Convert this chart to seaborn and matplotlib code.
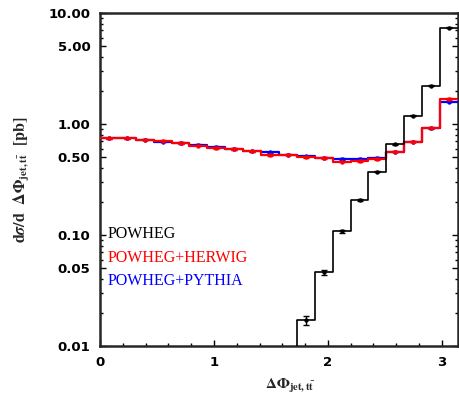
import numpy as np
import pandas as pd
import matplotlib
matplotlib.use("Agg")
import matplotlib.pyplot as plt
import seaborn as sns
from matplotlib.ticker import FixedLocator, FixedFormatter, MultipleLocator, LogLocator

# ---------------- data ----------------
n_bins = 20
bin_edges = np.linspace(0, np.pi, n_bins + 1)
bin_centers = 0.5 * (bin_edges[:-1] + bin_edges[1:])

powheg = [np.nan] * 11 + [0.017, 0.046, 0.108, 0.205, 0.373, 0.66, 1.19, 2.22, 7.4]
powheg_relerr = [np.nan] * 11 + [0.10, 0.06, 0.03, 0.02, 0.015, 0.01, 0.01, 0.01, 0.01]

herwig = [0.743, 0.743, 0.723, 0.708, 0.675, 0.638, 0.609, 0.596, 0.568, 0.527,
          0.530, 0.505, 0.495, 0.458, 0.465, 0.485, 0.564, 0.694, 0.925, 1.68]
pythia = [0.743, 0.743, 0.723, 0.693, 0.675, 0.652, 0.618, 0.596, 0.568, 0.556,
          0.530, 0.512, 0.498, 0.485, 0.482, 0.495, 0.564, 0.694, 0.915, 1.59]
relerr_shower = [0.015] * 20

ytick_vals = [0.01, 0.05, 0.10, 0.50, 1.00, 5.00, 10.00]
ytick_labels = ["0.01", "0.05", "0.10", "0.50", "1.00", "5.00", "10.00"]
xtick_vals = [0, 1, 2, 3]
xtick_labels = ["0", "1", "2", "3"]

series_names = ["POWHEG", "POWHEG+HERWIG", "POWHEG+PYTHIA"]
series_colors = ["black", "#ff0000", "#0000ff"]

# ---------------- style ----------------
sns.set_style("ticks")
plt.rcParams["font.family"] = ["DejaVu Sans"]
plt.rcParams["font.weight"] = "bold"
plt.rcParams["mathtext.fontset"] = "stix"

fig = plt.figure(figsize=(4.6, 3.95), dpi=100)
ax = fig.add_axes([100 / 460, 1 - 346 / 395, 358 / 460, 333 / 395])
ax.set_yscale("log")


def step_frame(vals):
    vals = np.asarray(vals, dtype=float)
    ok = ~np.isnan(vals)
    first = np.argmax(ok)
    x = bin_edges[first:]
    y = np.append(vals[first:], vals[-1])
    return pd.DataFrame({"x": x, "y": y}), first


def draw_series(vals, relerr, color, lw, z):
    df, first = step_frame(vals)
    sns.lineplot(data=df, x="x", y="y", drawstyle="steps-post", color=color,
                 lw=lw, ax=ax, zorder=z, sort=False, estimator=None)
    vals = np.asarray(vals, dtype=float)
    err = vals * np.asarray(relerr, dtype=float)
    pts = pd.DataFrame({"x": bin_centers[first:], "y": vals[first:]})
    ax.errorbar(bin_centers[first:], vals[first:], yerr=err[first:], fmt="none",
                ecolor=color, elinewidth=1.0, capsize=2, capthick=1.0, zorder=z + 0.1)
    sns.scatterplot(data=pts, x="x", y="y", color=color, s=10, linewidth=0,
                    ax=ax, zorder=z + 0.2, legend=False)
    return first


draw_series(pythia, relerr_shower, series_colors[2], 1.6, 3)
draw_series(herwig, relerr_shower, series_colors[1], 1.6, 4)
first_black = draw_series(powheg, powheg_relerr, series_colors[0], 1.2, 5)

ax.set_xlim(0, np.pi)
ax.set_ylim(0.01, 10.0)
# left vertical edge of the POWHEG histogram down to the axis floor
ax.vlines(bin_edges[first_black], 0.01, powheg[first_black], color="black", lw=1.2, zorder=5)

# ticks
ax.yaxis.set_major_locator(FixedLocator(ytick_vals))
ax.yaxis.set_major_formatter(FixedFormatter(ytick_labels))
ax.yaxis.set_minor_locator(LogLocator(base=10, subs=np.arange(2, 10)))
ax.yaxis.set_minor_formatter(FixedFormatter([]))
ax.xaxis.set_major_locator(FixedLocator(xtick_vals))
ax.xaxis.set_major_formatter(FixedFormatter(xtick_labels))
ax.xaxis.set_minor_locator(MultipleLocator(0.2))

ax.tick_params(axis="both", which="both", direction="in", top=False, right=True,
               width=1.0, colors="black")
ax.tick_params(axis="both", which="major", length=4, labelsize=9.5, pad=7)
ax.tick_params(axis="both", which="minor", length=2)
for lab in ax.get_xticklabels() + ax.get_yticklabels():
    lab.set_fontweight("bold")

for sp in ax.spines.values():
    sp.set_linewidth(1.8)
    sp.set_visible(True)

ax.set_xlabel(r"$\mathbf{\Delta\Phi_{jet,t\bar{t}}}$", fontsize=11)
ax.xaxis.set_label_coords(0.53, -0.085)
ax.xaxis.label.set_va("bottom")
ax.xaxis.label.set_y(0)
ax.set_ylabel(r"$\mathbf{d}\sigma\mathbf{/d\ \ \Delta\Phi_{jet,t\bar{t}}\ \ [pb]}$", fontsize=11.5)
ax.yaxis.set_label_coords(-0.19, 0.5)

# x label positioned so its whole subscript stays inside the figure
ax.xaxis.set_label_coords(0.53, -0.148)

# legend as coloured text
legend_y = [0.335, 0.263, 0.195]
for name, col, yy in zip(series_names, series_colors, legend_y):
    ax.text(0.02, yy, name, color=col, transform=ax.transAxes, va="center", ha="left",
            fontsize=11.5, family=["Liberation Serif"], fontweight="normal")

fig.savefig("out.png", dpi=100)
